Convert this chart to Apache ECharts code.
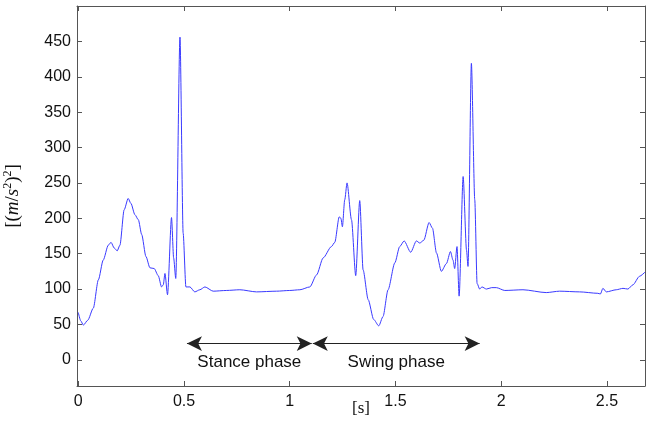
<!DOCTYPE html>
<html>
<head>
<meta charset="utf-8">
<script src="https://cdn.jsdelivr.net/npm/echarts@6/dist/echarts.min.js"></script>
<style>
  html, body { margin: 0; padding: 0; background: #fff; }
  #chart { width: 663px; height: 429px; }
</style>
</head>
<body>
<div id="chart"></div>
<script>
// time [s] and acceleration magnitude [(m/s^2)^2]
var times = [
  0.000, 0.012, 0.024, 0.045, 0.071, 0.095, 0.118, 0.142, 0.155, 0.170,
  0.184, 0.197, 0.217, 0.236, 0.249, 0.268, 0.284, 0.300, 0.320, 0.339,
  0.359, 0.378, 0.394, 0.402, 0.410, 0.422, 0.441, 0.451, 0.461, 0.481,
  0.496, 0.509, 0.528, 0.551, 0.575, 0.599, 0.638, 0.700, 0.764, 0.843,
  0.938, 1.000, 1.048, 1.095, 1.127, 1.158, 1.197, 1.213, 1.234, 1.242,
  1.249, 1.260, 1.271, 1.292, 1.312, 1.331, 1.347, 1.371, 1.397, 1.421,
  1.441, 1.465, 1.497, 1.520, 1.541, 1.572, 1.599, 1.615, 1.634, 1.659,
  1.675, 1.694, 1.717, 1.741, 1.760, 1.772, 1.780, 1.791, 1.801, 1.820,
  1.836, 1.843, 1.859, 1.875, 1.886, 1.898, 1.909, 1.930, 1.955, 1.977,
  2.017, 2.103, 2.213, 2.276, 2.371, 2.457, 2.469, 2.481, 2.497, 2.544,
  2.576, 2.599, 2.623, 2.654, 2.680
];
var accel = [
  67, 55, 49, 56, 73, 113, 141, 162, 166, 158,
  154, 162, 212, 228, 221, 205, 198, 177, 146, 130,
  129, 119, 103, 106, 122, 92, 201, 144, 115, 456,
  179, 103, 103, 96, 99, 103, 97, 98, 99, 96,
  97, 98, 99, 103, 120, 144, 160, 166, 202, 200,
  188, 226, 250, 198, 119, 225, 127, 85, 57, 48,
  61, 99, 137, 160, 168, 152, 168, 165, 169, 194,
  186, 151, 125, 136, 153, 141, 129, 160, 90, 259,
  155, 132, 419, 226, 108, 100, 103, 100, 102, 102,
  98, 99, 95, 97, 96, 94, 93, 101, 96, 99,
  101, 100, 106, 118, 124
];

var xTicks = [0, 0.5, 1, 1.5, 2, 2.5];
var yTicks = [0, 50, 100, 150, 200, 250, 300, 350, 400, 450];

// phase arrows: [start, end, label]
var phases = [
  [0.514, 1.104, 'Stance phase'],
  [1.109, 1.898, 'Swing phase']
];
var arrowLevel = 23;
var labelLevel = -4;

var chart = echarts.init(document.getElementById('chart'));

var points = times.map(function (t, i) { return [t, accel[i]]; });

var font = '"Liberation Sans", Arial, sans-serif';
var serif = '"Liberation Serif", "DejaVu Serif", serif';
var borderColor = '#555';

function xAxisCommon(pos, labels) {
  return {
    type: 'value',
    position: pos,
    min: -0.006,
    max: 2.68,
    axisLine: { show: true, onZero: false, lineStyle: { color: borderColor, width: 1 } },
    axisTick: { show: true, inside: true, length: 5, customValues: xTicks, lineStyle: { color: borderColor } },
    axisLabel: {
      show: labels, customValues: xTicks, margin: 8,
      color: '#111', fontSize: 16, fontFamily: font
    },
    splitLine: { show: false }
  };
}

function yAxisCommon(pos, labels) {
  return {
    type: 'value',
    position: pos,
    min: -37,
    max: 500,
    axisLine: { show: true, onZero: false, lineStyle: { color: borderColor, width: 1 } },
    axisTick: { show: true, inside: true, length: 5, customValues: yTicks, lineStyle: { color: borderColor } },
    axisLabel: {
      show: labels, customValues: yTicks, margin: 6,
      color: '#111', fontSize: 16, fontFamily: font
    },
    splitLine: { show: false }
  };
}

var xBottom = xAxisCommon('bottom', true);
xBottom.name = '[s]';
xBottom.nameLocation = 'middle';
xBottom.nameGap = 14;
xBottom.nameMoveOverlap = false;
xBottom.nameTextStyle = { color: '#111', fontSize: 17, fontFamily: serif };

var yLeft = yAxisCommon('left', true);
yLeft.name = '{a|[(}{b|m}{a|/}{b|s}{s|2}{a|)}{s|2}{a|]}';
yLeft.nameLocation = 'middle';
yLeft.nameGap = 53;
yLeft.nameMoveOverlap = false;
yLeft.nameRotate = 90;
yLeft.nameTextStyle = {
  rich: {
    a: { color: '#111', fontSize: 19, fontFamily: serif },
    b: { color: '#111', fontSize: 19, fontStyle: 'italic', fontFamily: serif },
    s: { color: '#111', fontSize: 12, fontFamily: serif, padding: [0, 0, 10, 0] }
  }
};

var arrowLines = phases.map(function (p) {
  return [{ coord: [p[0], arrowLevel] }, { coord: [p[1], arrowLevel] }];
});
var phaseLabels = phases.map(function (p) {
  return {
    coord: [(p[0] + p[1]) / 2, labelLevel],
    label: { show: true, formatter: p[2], position: 'inside', color: '#111', fontSize: 17, fontFamily: font }
  };
});

var option = {
  backgroundColor: '#fff',
  animation: false,
  grid: { left: 77, right: 18, top: 6, bottom: 43, containLabel: false, outerBoundsMode: 'none' },
  xAxis: [xBottom, xAxisCommon('top', false)],
  yAxis: [yLeft, yAxisCommon('right', false)],
  series: [{
    type: 'line',
    data: points,
    showSymbol: false,
    silent: true,
    smooth: 0.25,
    smoothMonotone: 'x',
    lineStyle: { color: '#3a3aff', width: 1 },
    markLine: {
      silent: true,
      symbol: ['arrow', 'arrow'],
      symbolSize: [11, 15],
      label: { show: false },
      lineStyle: { color: '#222', width: 1, type: 'solid' },
      data: arrowLines
    },
    markPoint: {
      silent: true,
      symbol: 'rect',
      symbolSize: 1,
      itemStyle: { color: 'rgba(0,0,0,0)' },
      data: phaseLabels
    }
  }]
};

chart.setOption(option);
</script>
</body>
</html>
